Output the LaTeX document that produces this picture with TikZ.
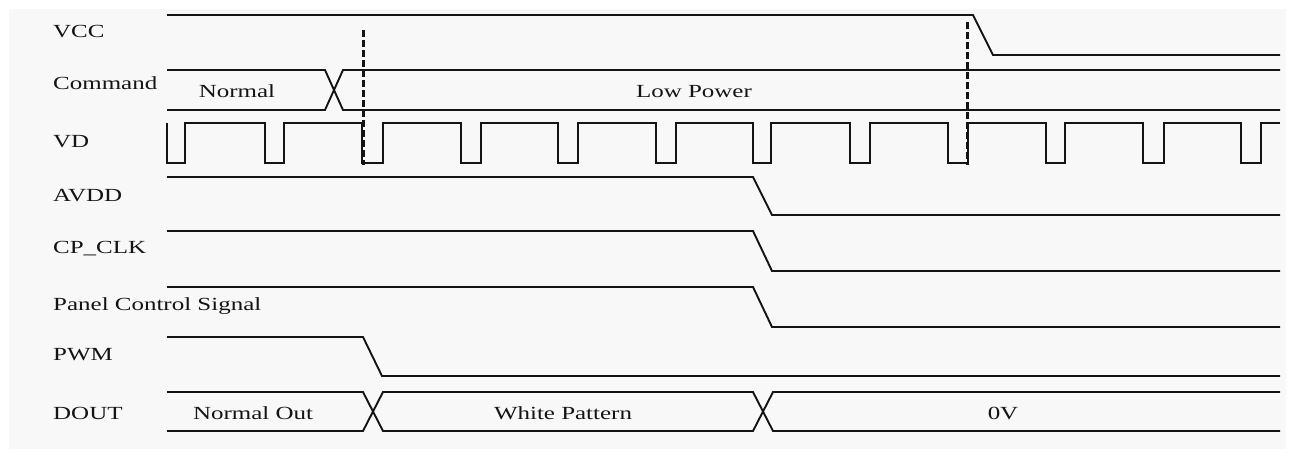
\documentclass[tikz,border=0pt]{standalone}
\usepackage{fontspec}
\setmainfont[FakeStretch=1.35]{Liberation Serif}
\definecolor{ink}{HTML}{141414}
\definecolor{paper}{HTML}{F8F8F8}

\begin{document}
\begin{tikzpicture}[x=1pt, y=-1pt,
    signame/.style ={anchor=base west, inner sep=0pt, text=ink, font=\fontsize{18.5}{20}\selectfont},
    busval/.style ={anchor=base, inner sep=0pt, text=ink, font=\fontsize{18.5}{20}\selectfont},
    wave/.style ={line width=1.9pt, ink, line join=miter},
    marker/.style ={line width=3pt, ink, dash pattern=on 7pt off 3pt}]
   \useasboundingbox (0,0) rectangle (1293,455);
   \fill[paper] (9,9) rectangle (1286,449);
   % signal names
   \node[signame] (vcc) at (53,37) {VCC};
   \node[signame] (cmd) at (53,89) {Command};
   \node[signame] (vd) at (53,147) {VD};
   \node[signame] (avdd) at (53,201) {AVDD};
   \node[signame] (cpclk) at (53,253) {CP\_CLK};
   \node[signame] (panel) at (53,310) {Panel Control Signal};
   \node[signame] (pwm) at (53,360) {PWM};
   \node[signame] (dout) at (53,419) {DOUT};
   % bus values
   \node[busval] (normal) at (237,97) {Normal};
   \node[busval] (lowpower) at (694,97) {Low Power};
   \node[busval] (normalout) at (253,419) {Normal Out};
   \node[busval] (white) at (563,419) {White Pattern};
   \node[busval] (zero) at (1003,419) {0V};
   % waveforms
   \draw[wave] (167,15) -- (973,15) -- (993,55) -- (1280,55);
   \draw[wave] (167,70) -- (325,70) -- (343,110) -- (1280,110);
   \draw[wave] (167,110) -- (325,110) -- (343,70) -- (1280,70);
   \draw[wave] (167,123) -- (167,163) -- (185,163) -- (185,123)
      -- (265,123) -- (265,163) -- (284,163) -- (284,123)
      -- (362,123) -- (362,163) -- (383,163) -- (383,123)
      -- (461,123) -- (461,163) -- (481,163) -- (481,123)
      -- (558,123) -- (558,163) -- (578,163) -- (578,123)
      -- (656,123) -- (656,163) -- (676,163) -- (676,123)
      -- (753,123) -- (753,163) -- (771,163) -- (771,123)
      -- (850,123) -- (850,163) -- (870,163) -- (870,123)
      -- (948,123) -- (948,163) -- (968,163) -- (968,123)
      -- (1046,123) -- (1046,163) -- (1065,163) -- (1065,123)
      -- (1143,123) -- (1143,163) -- (1164,163) -- (1164,123)
      -- (1241,123) -- (1241,163) -- (1261,163) -- (1261,123) -- (1280,123);
   \draw[wave] (167,177) -- (753,177) -- (772,215) -- (1280,215);
   \draw[wave] (167,231) -- (753,231) -- (772,271) -- (1280,271);
   \draw[wave] (167,287) -- (753,287) -- (772,327) -- (1280,327);
   \draw[wave] (167,337) -- (363,337) -- (382,376) -- (1280,376);
   \draw[wave] (167,392) -- (363,392) -- (383,431) -- (753,431) -- (773,392) -- (1280,392);
   \draw[wave] (167,431) -- (363,431) -- (383,392) -- (753,392) -- (773,431) -- (1280,431);
   % markers
   \draw[marker] (363,30) -- (363,165);
   \draw[marker] (967,22) -- (967,165);
\end{tikzpicture}
\end{document}
